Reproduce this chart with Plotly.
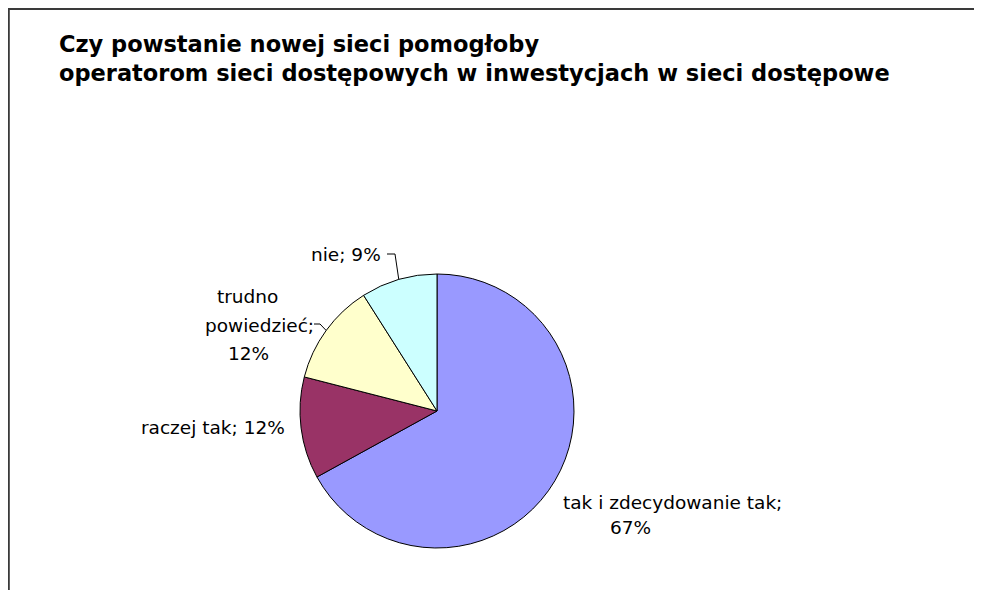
import math
import plotly.graph_objects as go

# ---- data ----
categories = ["tak i zdecydowanie tak", "raczej tak", "trudno powiedzieć", "nie"]
values = [67, 12, 12, 9]
colors = ["#9999FF", "#993366", "#FFFFCC", "#CCFFFF"]
title_lines = ["Czy powstanie nowej sieci pomogłoby",
               "operatorom sieci dostępowych w inwestycjach w sieci dostępowe"]

W, H = 982, 590
OX, OY = 8, 8              # page body margin offset
CX, CY, R = 437, 411, 137  # pie centre / radius in screen px
FONT = "DejaVu Sans, Liberation Sans, Arial, sans-serif"


def px(x, y):
    return (x - OX) / W, 1 - (y - OY) / H


x0, y1 = px(CX - R, CY - R)
x1, y0 = px(CX + R, CY + R)

fig = go.Figure(go.Pie(
    labels=categories, values=values, sort=False, direction="clockwise",
    rotation=0, marker=dict(colors=colors, line=dict(color="black", width=1)),
    textinfo="none", hoverinfo="label+percent", showlegend=False,
    domain=dict(x=[x0, x1], y=[y0, y1]),
))

# mid-angle (clockwise from 12 o'clock) of each slice -> edge point
total = sum(values)
edge = []
acc = 0
for v in values:
    mid = (acc + v / 2) / total * 2 * math.pi
    edge.append((CX + R * math.sin(mid), CY - R * math.cos(mid)))
    acc += v

annotations = []


def label(text, x, y, size=18.5, bold=False, xanchor="center", align="center"):
    ax, ay = px(x, y)
    annotations.append(dict(
        text=f"<b>{text}</b>" if bold else text, x=ax, y=ay, xref="paper",
        yref="paper", xanchor=xanchor, yanchor="middle", showarrow=False,
        align=align, font=dict(family=FONT, size=size, color="black")))


label("<br>".join(title_lines), 57, 58, size=22.5, bold=True,
      xanchor="left", align="left")

pct = [f"{v}%" for v in values]
label(f"nie; {pct[3]}", 346, 255)
label("trudno", 247, 297)
label("powiedzieć;", 259, 325)
label(pct[2], 248, 353)
label(f"raczej tak; {pct[1]}", 213, 427)
label("tak i zdecydowanie tak;", 672, 502)
label(pct[0], 630, 527)


def path(points):
    d = ""
    for i, (x, y) in enumerate(points):
        ax, ay = px(x, y)
        d += ("M" if i == 0 else "L") + f"{ax},{ay} "
    return d


shapes = [
    # leader lines
    dict(type="path", xref="paper", yref="paper",
         path=path([(387, 254), (395, 254), edge[3]]),
         line=dict(color="black", width=1)),
    dict(type="path", xref="paper", yref="paper",
         path=path([(314, 324), (320, 324), edge[2]]),
         line=dict(color="black", width=1)),
    # chart frame (top and left edges visible)
    dict(type="rect", xref="paper", yref="paper",
         x0=0.0008, x1=1.05, y0=-0.05, y1=0.9985,
         line=dict(color="#3a3a3a", width=2)),
]

fig.update_layout(
    width=W, height=H, margin=dict(l=0, r=0, t=0, b=0),
    paper_bgcolor="white", plot_bgcolor="white",
    annotations=annotations, shapes=shapes,
)

fig.write_html("out.html")
